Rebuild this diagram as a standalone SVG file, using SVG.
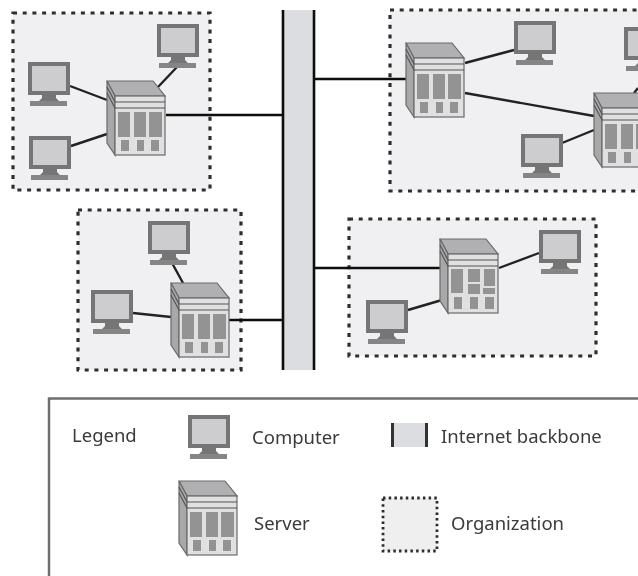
<svg xmlns="http://www.w3.org/2000/svg" width="638" height="576" viewBox="0 0 638 576">
<style>
.org{fill:#f0f0f2;stroke:#2e2e2e;stroke-width:3.2;stroke-dasharray:4 5.700}
.link{fill:none;stroke:#222;stroke-width:2.4}
.wan{fill:none;stroke:#111;stroke-width:2.6}
.bbfill{fill:#dcdde0}
.bbline{stroke:#111;stroke-width:2.6}
.lab{font-family:"Noto Sans","Open Sans",sans-serif;font-size:18.5px;fill:#3a3a3a}
.sv{stroke:#6a6a6a;stroke-width:1.2}
.win{fill:#939393}
</style>
<defs>
<filter id="soft" x="-2%" y="-2%" width="104%" height="104%"><feGaussianBlur stdDeviation="0.6"/></filter>
<g id="computer">
<rect x="2" y="2" width="38" height="29" fill="#cdcdcf" stroke="#757575" stroke-width="4"/>
<path d="M14 33H28V36L31 39H11L14 36Z" fill="#757575"/>
<rect x="2" y="39" width="37" height="5" fill="#858585"/>
</g>
<g id="shell">
<path d="M0 0H46L58 15H8Z" fill="#b0b0b2" class="sv"/>
<path d="M0 0L8 15V74L0 62Z" fill="#a8a8a8" class="sv"/>
<rect x="8" y="15" width="50" height="59" fill="#e0e0e0" class="sv"/>
<path d="M0 6L8 21H58M0 12L8 27H58" fill="none" stroke="#555" stroke-width="1.2"/>
</g>
<g id="server">
<use href="#shell"/>
<rect class="win" x="11" y="31" width="12" height="25"/>
<rect class="win" x="27" y="31" width="12" height="25"/>
<rect class="win" x="42" y="31" width="13" height="25"/>
<rect class="win" x="14" y="59" width="8" height="11"/>
<rect class="win" x="30" y="59" width="7" height="11"/>
<rect class="win" x="44" y="59" width="8" height="11"/>
</g>
<g id="server2">
<use href="#shell"/>
<rect class="win" x="11" y="30" width="12" height="24"/>
<rect class="win" x="28" y="30" width="12" height="13"/>
<rect class="win" x="44" y="30" width="11" height="17"/>
<rect class="win" x="28" y="45" width="12" height="10"/>
<rect class="win" x="43" y="49" width="12" height="6"/>
<rect class="win" x="14" y="58" width="8" height="12"/>
<rect class="win" x="30" y="58" width="8" height="12"/>
<rect class="win" x="45" y="58" width="9" height="12"/>
</g>
</defs>
<rect width="638" height="576" fill="#fff"/>
<g filter="url(#soft)">
<g id="org-1"><rect class="org" x="13" y="13" width="197" height="177"/></g>
<g id="org-2"><rect class="org" x="78" y="210" width="163" height="160"/></g>
<g id="org-3"><rect class="org" x="390" y="10" width="260" height="181"/></g>
<g id="org-4"><rect class="org" x="349" y="219" width="247" height="137"/></g>
<g id="backbone">
<rect class="bbfill" x="283" y="10" width="31" height="360"/>
<path class="bbline" d="M283 10V370M314 10V370"/>
</g>
<g id="connectors">
<path class="wan" d="M166 115H283M229 320H283M315 79H406M315 268H440"/>
<path class="link" d="M70 86L107 100M71 146L107 134M177 67L158 87M172 263L183 283M133 313L171 317M465 63L514 50M465 93L594 116M562 143L594 130M634 93L638 88M499 268L539 253M408 310L442 300"/>
</g>
<g id="computer-1"><use href="#computer" x="157" y="24"/></g>
<g id="computer-2"><use href="#computer" x="28" y="62"/></g>
<g id="computer-3"><use href="#computer" x="29" y="136"/></g>
<g id="computer-4"><use href="#computer" x="148" y="221"/></g>
<g id="computer-5"><use href="#computer" x="91" y="290"/></g>
<g id="computer-6"><use href="#computer" x="514" y="21"/></g>
<g id="computer-7"><use href="#computer" x="624" y="27"/></g>
<g id="computer-8"><use href="#computer" x="521" y="134"/></g>
<g id="computer-9"><use href="#computer" x="539" y="230"/></g>
<g id="computer-10"><use href="#computer" x="366" y="300"/></g>
<g id="server-1"><use href="#server" x="107" y="81"/></g>
<g id="server-2"><use href="#server" x="171" y="283"/></g>
<g id="server-3"><use href="#server" x="406" y="43"/></g>
<g id="server-4"><use href="#server" x="594" y="93"/></g>
<g id="server-5"><use href="#server2" x="440" y="239"/></g>
<g id="legend">
<path d="M49 576V398.500H638" fill="none" stroke="#6e6e6e" stroke-width="2.500"/>
<text class="lab" x="72" y="442">Legend</text>
<use href="#computer" x="188" y="415"/>
<text class="lab" x="252" y="444">Computer</text>
<rect class="bbfill" x="392" y="423" width="35" height="24"/>
<path d="M392.500 423V447M426.500 423V447" stroke="#333" stroke-width="3"/>
<text class="lab" x="441" y="443">Internet backbone</text>
<use href="#server" x="179" y="481"/>
<text class="lab" x="254" y="530">Server</text>
<rect x="383" y="498" width="54" height="53" fill="#efefef" stroke="#2e2e2e" stroke-width="2.800" stroke-dasharray="2.500 3.200"/>
<text class="lab" x="451" y="530">Organization</text>
</g>
</g>
</svg>
